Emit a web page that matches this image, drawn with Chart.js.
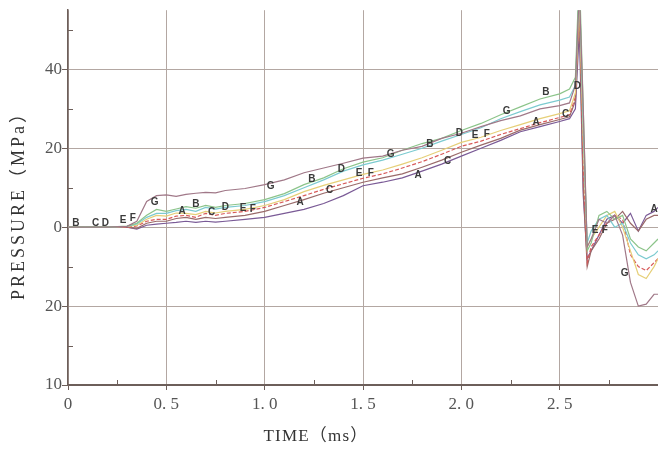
<!DOCTYPE html>
<html><head><meta charset="utf-8">
<script src="https://cdn.jsdelivr.net/npm/chart.js@4/dist/chart.umd.min.js"></script>
<style>html,body{margin:0;padding:0;background:#fff}canvas{display:block}</style>
</head><body>
<canvas id="c" width="658" height="452"></canvas>
<script>
// time axis (ms)
const time = [0,0.1,0.2,0.3,0.35,0.4,0.45,0.5,0.55,0.6,0.65,0.7,0.75,0.8,0.9,1.0,1.1,1.2,1.3,1.4,1.5,1.6,1.7,1.8,1.9,2.0,2.1,2.2,2.3,2.4,2.5,2.55,2.58,2.6,2.62,2.64,2.66,2.7,2.74,2.78,2.82,2.86,2.9,2.94,2.98,3.0];
// pressure (MPa) per gauge
const seriesG = [0,0,0,0.2,1.5,6.5,8,8.2,7.8,8.3,8.6,8.8,8.7,9.3,9.8,10.8,12.0,13.8,15,16.2,17.5,18.0,19.5,20.5,22.5,23.8,25.5,27,28.2,30,30.8,31.5,36,60,30,-5,-3,2,1,3,-2,-14,-20,-19.5,-17,-17];
const seriesB = [0,0,0,0.3,1,3,4.5,4,4.6,5.2,4.8,5.5,5.0,5.5,6,7,8.5,10.8,12.5,14.8,16.5,17.6,19.5,21.2,22.5,24.5,26.3,28.5,30.5,32.5,33.8,35,38,65,30,-6,-4,3,4,2,3,-3,-5,-6,-4,-3];
const seriesD = [0,0,0,0.2,0.8,2.5,3.5,3.5,4.2,4.5,4.0,5,4.6,5,5.5,6.5,8,10,12,14.2,15.8,17,18.5,20,21.8,23.5,25.2,27.5,29.3,31,32.2,33,36,62,25,-4,-1,2,3,0,1,-4,-7,-8,-7,-6];
const seriesE = [0,0,0,0.2,0.5,2,3,2.8,3.6,3.5,3.2,4,3.6,4,4.5,5.5,7,9,10.6,12,13.4,14.5,16,17.6,19.5,21.5,22.8,24.5,26,27.5,28.8,29.5,34,58,22,-5,-3,0,3,4,0,-6,-12,-13,-10,-8];
const seriesF = [0,0,0,0,0.3,1.5,2,2,2.8,3,2.5,3.5,3.0,3.5,4,5,6.5,8,9.6,11,12.4,13.5,15,16.6,18.5,20.5,21.8,23.5,25,26.5,27.8,28.5,33,58,15,-9,-5,-2,1,3,2,-7,-10,-11,-9,-8];
const seriesC = [0,0,0,0,-0.3,1,1.5,1.5,2.2,2.5,2.0,2.5,2.2,2.5,3,4,5.5,7,8.6,10,11.4,12.5,13.5,15.2,17,19,20.8,22.5,24.6,26,27.3,28,32,55,10,-10,-6,-3,1,2,4,1,-1,2,3,3];
const seriesA = [0,0,0,0,-0.5,0.5,0.8,1,1.2,1.5,1.2,1.5,1.3,1.5,2,2.5,3.5,4.5,6,8,10.5,11.4,12.5,14.2,16,18,20,22,24.2,25.5,26.8,27.5,30,50,8,-8,-6,-2,2,3,1,3.5,-1,3,4,5];
const seriesNames = ['G','B','D','E','F','C','A'];
// tick labels (as printed, left edge of the figure is cropped)
const xTickValues = [0,0.5,1.0,1.5,2.0,2.5];
const xTickLabels = ['0','0. 5','1. 0','1. 5','2. 0','2. 5'];
const yTickValues = [-40,-20,0,20,40];
const yTickLabels = ['10','20','0','20','40'];
const xMinorTicks = [0.25,0.75,1.25,1.75,2.25,2.75];
const yMinorTicks = [-30,-10,10,30,50];
// curve identification letters [letter, time, pressure]
const curveLetters = [
 ['B',0.04,1],['C',0.14,1],['D',0.19,1],['E',0.28,1.75],['F',0.33,2.25],['G',0.44,6.25],
 ['A',0.58,4],['B',0.65,5.75],['C',0.73,3.75],['D',0.80,5],['E',0.89,4.75],['F',0.94,4.5],
 ['G',1.03,10.5],['A',1.18,6.25],['B',1.24,12.25],['C',1.33,9.25],['D',1.39,14.75],['E',1.48,13.75],['F',1.54,13.75],
 ['G',1.64,18.5],['A',1.78,13.25],['B',1.84,21],['C',1.93,16.75],['D',1.99,23.75],['E',2.07,23.25],['F',2.13,23.5],
 ['G',2.23,29.5],['A',2.38,26.5],['B',2.43,34.25],['C',2.53,28.5],['D',2.59,35.75],
 ['E',2.68,-0.75],['F',2.73,-0.75],['G',2.83,-11.75],['A',2.98,4.5]
];
const xTitle = 'TIME（ms）';
const yTitle = 'PRESSURE（MPa）';

const seriesValues = [seriesG,seriesB,seriesD,seriesE,seriesF,seriesC,seriesA];
const colors = ['#a07888','#8cc48a','#7ccbd0','#e6cf78','#d85a5a','#9a6a6a','#7a5a96'];
const gridColor = '#b3a7a2';
const axisColor = '#6d5f5a';

const datasets = seriesValues.map((vals,i)=>({
  label: seriesNames[i],
  data: time.map((t,j)=>({x:t,y:vals[j]})),
  borderColor: colors[i],
  borderWidth: 1.2,
  borderDash: seriesNames[i]==='F' ? [4,2] : [],
  pointRadius: 0,
  tension: 0,
  fill: false
}));

const decor = {
  id:'decor',
  afterDatasetsDraw(chart){
    const ctx = chart.ctx, xs = chart.scales.x, ys = chart.scales.y, ca = chart.chartArea;
    ctx.save();
    ctx.strokeStyle = axisColor; ctx.lineWidth = 1;
    yMinorTicks.forEach(v=>{const p=Math.round(ys.getPixelForValue(v))+0.5;ctx.beginPath();ctx.moveTo(ca.left,p);ctx.lineTo(ca.left+5,p);ctx.stroke();});
    xMinorTicks.forEach(v=>{const p=Math.round(xs.getPixelForValue(v))+0.5;ctx.beginPath();ctx.moveTo(p,ca.bottom);ctx.lineTo(p,ca.bottom-5);ctx.stroke();});
    ctx.font = 'bold 10px "Liberation Sans", Arial, sans-serif';
    ctx.fillStyle = '#3a3a3a'; ctx.textAlign='center'; ctx.textBaseline='middle';
    curveLetters.forEach(([l,x,y])=>{
      const px = xs.getPixelForValue(x), py = ys.getPixelForValue(y);
      if (px < ca.right+4) ctx.fillText(l,px,py);
    });
    ctx.fillStyle = '#333';
    ctx.textAlign='center'; ctx.textBaseline='middle';
    ctx.font = '17px "Liberation Serif", "Noto Sans CJK SC", serif';
    try{ctx.letterSpacing='1.2px';}catch(e){}
    ctx.fillText(xTitle, 316, 437);
    ctx.font = '18px "Liberation Serif", "Noto Sans CJK SC", serif';
    try{ctx.letterSpacing='3px';}catch(e){}
    ctx.translate(19,201); ctx.rotate(-Math.PI/2);
    ctx.fillText(yTitle, 0, 0);
    ctx.restore();
  }
};

new Chart(document.getElementById('c'),{
  type:'line',
  data:{datasets},
  options:{
    responsive:false, animation:false, devicePixelRatio:1,
    layout:{padding:{top:5,right:0,left:0,bottom:0}},
    plugins:{legend:{display:false},tooltip:{enabled:false}},
    scales:{
      x:{type:'linear',min:0,max:3.0,
        afterBuildTicks:s=>{s.ticks=xTickValues.map(v=>({value:v}));},
        afterFit:s=>{s.height=67;},
        ticks:{autoSkip:false,maxRotation:0,padding:4,color:'#555',font:{family:'"Liberation Serif", serif',size:17},
          callback:(v)=>{const i=xTickValues.indexOf(v);return i>=0?xTickLabels[i]:'';}},
        grid:{color:gridColor,lineWidth:1,tickLength:5,tickColor:axisColor},
        border:{display:true,color:axisColor,width:1.5}
      },
      y:{type:'linear',min:-40,max:55,
        afterBuildTicks:s=>{s.ticks=yTickValues.map(v=>({value:v}));},
        afterFit:s=>{s.width=68;},
        ticks:{padding:0,color:'#555',font:{family:'"Liberation Serif", serif',size:17},
          callback:(v)=>{const i=yTickValues.indexOf(v);return i>=0?yTickLabels[i]:'';}},
        grid:{color:(c)=>c.tick && c.tick.value===-40?axisColor:gridColor,lineWidth:1,tickLength:6,tickColor:axisColor},
        border:{display:true,color:axisColor,width:1.5}
      }
    }
  },
  plugins:[decor]
});
</script>
</body></html>
